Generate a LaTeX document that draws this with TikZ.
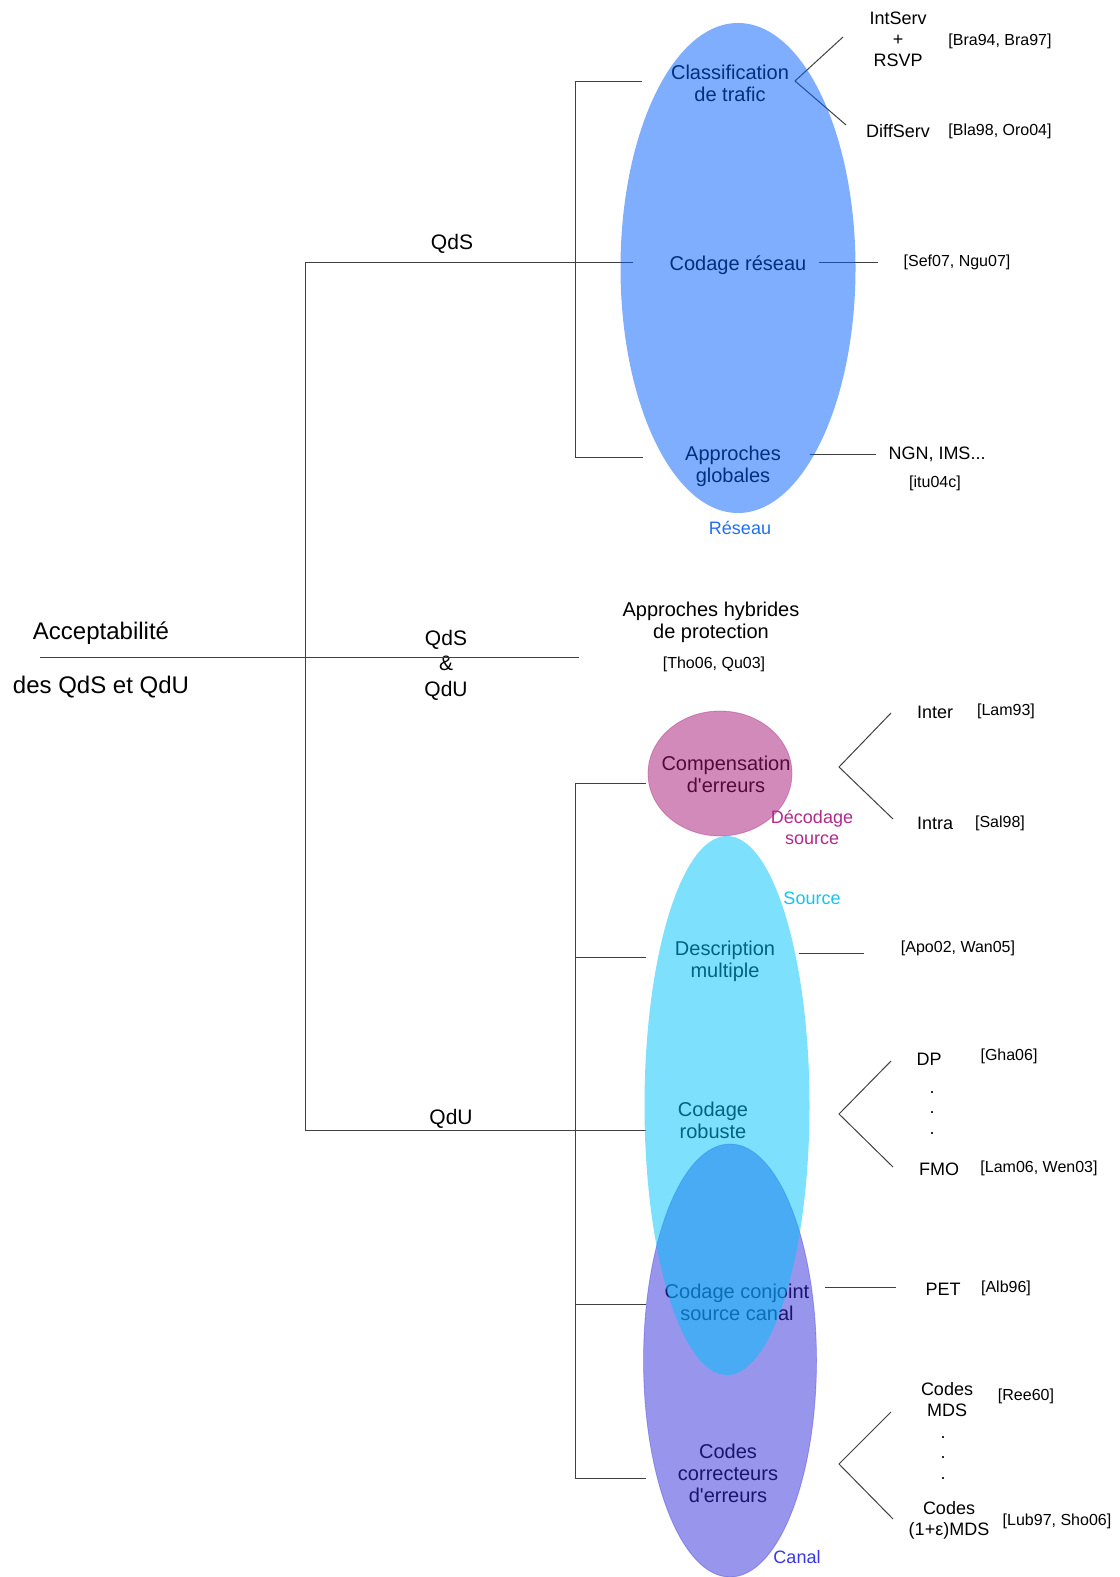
\documentclass[tikz,border=0pt]{standalone}
\usepackage{fontspec}
\setmainfont{Liberation Sans}[Ligatures=TeXOff]
\usetikzlibrary{positioning}
\definecolor{reseaufill}{RGB}{0,93,255}
\definecolor{compfill}{RGB}{163,21,117}
\definecolor{canalfill}{RGB}{49,43,217}
\definecolor{sourcefill}{RGB}{0,194,251}
\definecolor{reseautext}{RGB}{30,110,245}
\definecolor{decodtext}{RGB}{178,40,140}
\definecolor{sourcetext}{RGB}{20,195,245}
\definecolor{canaltext}{RGB}{55,55,235}

\begin{document}
\begin{tikzpicture}[x=0.5pt,y=-0.5pt,
  every node/.style={inner sep=0pt,align=center},
  intext/.style={font=\fontsize{10}{11}\selectfont},
  outtext/.style={font=\fontsize{9}{10.5}\selectfont},
  reftext/.style={font=\fontsize{8}{10}\selectfont},
  qtext/.style={font=\fontsize{10.5}{12.7}\selectfont},
  bigtext/.style={font=\fontsize{12}{14}\selectfont},
  branch/.style={draw=black!75,line width=0.5pt},
  zone/.style={fill opacity=0.5,draw opacity=0.35,line width=0.4pt}]
\useasboundingbox (0,0) rectangle (1119,1577);

\node[bigtext] (accept) at (101,633) {Acceptabilité};
\node[bigtext] (desqds) at (101,687) {des QdS et QdU};
\node[qtext] (qds) at (452,244) {QdS};
\node[qtext] (qdsqdu) at (446,665) {QdS\\\&\\QdU};
\node[qtext] (qdu) at (451,1119) {QdU};

\coordinate (acc) at (40,657);
\coordinate (hyb) at (579,657);
\coordinate (hub top) at (305,263);
\coordinate (hub bot) at (305,1130);
\coordinate (qds end) at (633,263);
\coordinate (qdu end) at (608,1130);
\draw[branch] (acc) -- (hyb);
\draw[branch] (hub top) -- (hub bot);
\draw[branch] (hub top) -- (qds end);
\draw[branch] (hub bot) -- (qdu end);

\coordinate (res top) at (575,82);
\coordinate (res bot) at (575,457);
\coordinate (cls-l) at (642,82);
\coordinate (glob-l) at (643,457);
\draw[branch] (res top) -- (res bot);
\draw[branch] (res top) -- (cls-l);
\draw[branch] (res bot) -- (glob-l);

\coordinate (prot top) at (575,783);
\coordinate (prot bot) at (575,1478);
\draw[branch] (prot top) -- (prot bot);
\foreach \y/\n in {783/comp,957/desc,1130/rob,1304/conj,1478/corr}{
  \coordinate (\n-a) at (575,\y);
  \coordinate (\n-l) at (646,\y);
  \draw[branch] (\n-a) -- (\n-l);
}

\node[intext] (cls) at (730,83) {Classification\\de trafic};
\node[intext] (cres) at (738,265) {Codage réseau};
\node[intext] (glob) at (733,466) {Approches\\globales};
\node[intext] (hybr) at (711,622) {Approches hybrides\\de protection};
\node[reftext] (tho) at (714,664) {[Tho06, Qu03]};

\node[intext] (comp) at (726,774) {Compensation\\d\textquotesingle erreurs};
\node[intext] (desc) at (725,961) {Description\\multiple};
\node[intext] (rob) at (713,1120) {Codage\\robuste};
\node[intext] (conj) at (737,1302) {Codage conjoint\\source canal};
\node[intext] (corr) at (728,1473) {Codes\\correcteurs\\d\textquotesingle erreurs};

\node[outtext] (intserv) at (898,39) {IntServ\\+\\RSVP};
\node[reftext] (bra) at (1000,41) {[Bra94, Bra97]};
\node[outtext] (diffserv) at (898,131) {DiffServ};
\node[reftext] (bla) at (1000,131) {[Bla98, Oro04]};
\node[reftext] (sef) at (957,262) {[Sef07, Ngu07]};
\node[outtext] (ngn) at (937,454) {NGN, IMS...};
\node[reftext] (itu) at (935,483) {[itu04c]};

\coordinate (cls-r) at (795,81);
\coordinate (intserv-l) at (843,37);
\coordinate (diffserv-l) at (846,125);
\draw[branch] (intserv-l) -- (cls-r) -- (diffserv-l);
\coordinate (cres-r) at (819,263);
\coordinate (sef-l) at (878,263);
\draw[branch] (cres-r) -- (sef-l);
\coordinate (glob-r) at (810,454);
\coordinate (ngn-l) at (876,454);
\draw[branch] (glob-r) -- (ngn-l);

\node[outtext] (inter) at (935,712) {Inter};
\node[reftext] (lam93) at (1006,711) {[Lam93]};
\node[outtext] (intra) at (935,823) {Intra};
\node[reftext] (sal98) at (1000,823) {[Sal98]};
\node[reftext] (apo) at (958,948) {[Apo02, Wan05]};
\node[outtext] (dp) at (929,1059) {DP};
\node[reftext] (gha) at (1009,1056) {[Gha06]};
\node[outtext] (fmo) at (939,1169) {FMO};
\node[reftext] (lam06) at (1039,1168) {[Lam06, Wen03]};
\node[outtext] (pet) at (943,1289) {PET};
\node[reftext] (alb) at (1006,1288) {[Alb96]};
\node[outtext] (mds) at (947,1400) {Codes\\MDS};
\node[reftext] (ree) at (1026,1396) {[Ree60]};
\node[outtext] (epsmds) at (949,1520) {Codes\\(1+ε)MDS};
\node[reftext] (lub) at (1057,1521) {[Lub97, Sho06]};
\foreach \y in {1093,1113,1134}
  \node[outtext] (dotdp\y) at (932,\y) {.};
\foreach \y in {1438,1458,1479}
  \node[outtext] (dotmds\y) at (943,\y) {.};

\coordinate (comp-r) at (839,767);
\coordinate (inter-l) at (891,713);
\coordinate (intra-l) at (893,819);
\draw[branch] (inter-l) -- (comp-r) -- (intra-l);
\coordinate (desc-r) at (799,953);
\coordinate (apo-l) at (864,953);
\draw[branch] (desc-r) -- (apo-l);
\coordinate (rob-r) at (839,1114);
\coordinate (dp-l) at (891,1061);
\coordinate (fmo-l) at (893,1167);
\draw[branch] (dp-l) -- (rob-r) -- (fmo-l);
\coordinate (conj-r) at (825,1287);
\coordinate (pet-l) at (896,1287);
\draw[branch] (conj-r) -- (pet-l);
\coordinate (corr-r) at (839,1464);
\coordinate (mds-l) at (891,1412);
\coordinate (epsmds-l) at (893,1519);
\draw[branch] (mds-l) -- (corr-r) -- (epsmds-l);

\fill[fill=reseaufill,fill opacity=0.5] (738,268) ellipse [x radius=58.75pt,y radius=122.5pt];
\filldraw[zone,fill=compfill,draw=compfill] (720,773.5) ellipse [x radius=36pt,y radius=31.25pt];
\filldraw[zone,fill=canalfill,draw=canalfill] (730,1360.5) ellipse [x radius=43.25pt,y radius=108.25pt];
\fill[fill=sourcefill,fill opacity=0.51] (727,1105.5) ellipse [x radius=41.25pt,y radius=134.75pt];

\node[outtext,text=reseautext] (reseau) at (740,528) {Réseau};
\node[outtext,text=decodtext] (decod) at (812,827) {Décodage\\source};
\node[outtext,text=sourcetext] (source) at (812,898) {Source};
\node[outtext,text=canaltext] (canal) at (797,1557) {Canal};
\end{tikzpicture}
\end{document}
